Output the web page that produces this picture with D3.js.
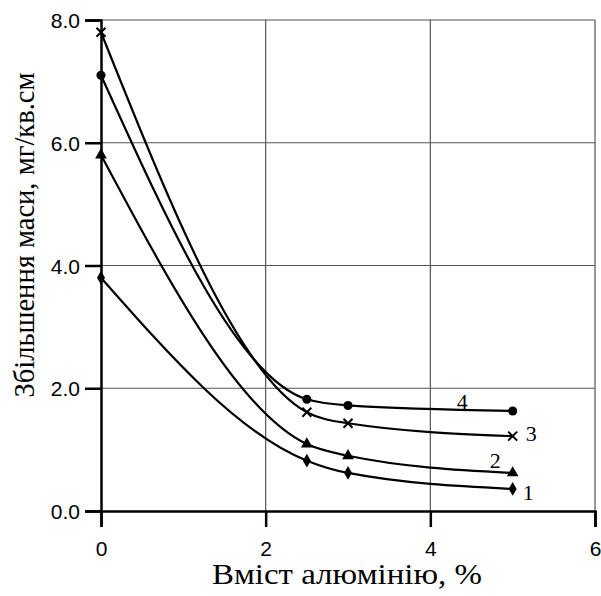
<!DOCTYPE html>
<html lang="uk">
<head>
<meta charset="UTF-8">
<title>Збільшення маси</title>
<script src="https://d3js.org/d3.v7.min.js"></script>
<style>
  body { margin: 0; background: #fff; }
  .tick text { font-family: "Liberation Sans", Arial, sans-serif; font-size: 21px; fill: #000; }
  .ttl { font-family: "Liberation Serif", "DejaVu Serif", serif; font-size: 29px; fill: #000; }
  .lbl { font-family: "Liberation Serif", "DejaVu Serif", serif; font-size: 22px; fill: #000; }
</style>
</head>
<body>
<div id="chart"></div>
<script>
  // values
  const xs = [0, 2.5, 3, 5];
  const s1 = [3.8, 0.82, 0.62, 0.36];   // diamonds
  const s2 = [5.8, 1.09, 0.90, 0.62];   // triangles
  const s3 = [7.8, 1.61, 1.43, 1.22];   // crosses
  const s4 = [7.1, 1.82, 1.72, 1.63];   // circles
  const seriesNames = ["1", "2", "3", "4"];
  const xTicks = [0, 2, 4, 6];
  const yTicks = [0, 2, 4, 6, 8];

  const W = 601, H = 596;
  const m = {left: 101, right: 6, top: 20, bottom: 85};

  const svg = d3.select("#chart").append("svg")
    .attr("width", W).attr("height", H);

  const x = d3.scaleLinear().domain([0, 6]).range([m.left, W - m.right]);
  const y = d3.scaleLinear().domain([0, 8]).range([H - m.bottom, m.top]);

  // grid
  svg.append("g").selectAll("line").data(xTicks.slice(1)).join("line")
    .attr("x1", d => x(d)).attr("x2", d => x(d))
    .attr("y1", y(0)).attr("y2", y(8))
    .attr("stroke", "#555").attr("stroke-width", 1.2);
  svg.append("g").selectAll("line").data(yTicks.slice(1)).join("line")
    .attr("x1", x(0)).attr("x2", x(6))
    .attr("y1", d => y(d)).attr("y2", d => y(d))
    .attr("stroke", "#555").attr("stroke-width", 1.2);

  // axes
  const xAxis = svg.append("g")
    .attr("transform", `translate(0,${y(0)})`)
    .call(d3.axisBottom(x).tickValues(xTicks).tickFormat(d3.format("d")).tickSize(16).tickPadding(14));
  const yAxis = svg.append("g")
    .attr("transform", `translate(${x(0)},0)`)
    .call(d3.axisLeft(y).tickValues(yTicks).tickFormat(d3.format(".1f")).tickSize(16).tickPadding(5));
  [xAxis, yAxis].forEach(a => {
    a.select(".domain").attr("stroke", "#000").attr("stroke-width", 2.5);
    a.selectAll(".tick line").attr("stroke", "#000").attr("stroke-width", 2.5);
  });
  yAxis.selectAll(".tick text").attr("dy", "0.36em");

  // curves
  const data = [s1, s2, s3, s4].map(s => s.map((v, i) => [xs[i], v]));
  const line = d3.line().x(d => x(d[0])).y(d => y(d[1])).curve(d3.curveMonotoneX);

  svg.append("g").selectAll("path").data(data).join("path")
    .attr("d", line).attr("fill", "none")
    .attr("stroke", "#000").attr("stroke-width", 2.2);

  // markers
  const shapes = [d3.symbolDiamond, d3.symbolTriangle, null, d3.symbolCircle];
  const sizes = [55, 60, 0, 65];
  data.forEach((s, k) => {
    const g = svg.append("g");
    if (k === 2) {
      g.selectAll("path").data(s).join("path")
        .attr("transform", d => `translate(${x(d[0])},${y(d[1])})`)
        .attr("d", "M-4.5,-4.5L4.5,4.5M-4.5,4.5L4.5,-4.5")
        .attr("stroke", "#000").attr("stroke-width", 2);
    } else {
      g.selectAll("path").data(s).join("path")
        .attr("transform", d => `translate(${x(d[0])},${y(d[1])})`)
        .attr("d", d3.symbol().type(shapes[k]).size(sizes[k]))
        .attr("fill", "#000");
    }
  });

  // curve numbers
  const lblOff = [[10, 11], [-23, -5], [13, 5], [-56, -2]];
  data.forEach((s, k) => {
    const p = s[s.length - 1];
    svg.append("text").attr("class", "lbl")
      .attr("x", x(p[0]) + lblOff[k][0]).attr("y", y(p[1]) + lblOff[k][1])
      .text(seriesNames[k]);
  });

  // titles
  svg.append("text").attr("class", "ttl")
    .attr("x", 347).attr("y", 584).attr("text-anchor", "middle")
    .attr("textLength", 270).attr("lengthAdjust", "spacingAndGlyphs")
    .text("Вміст алюмінію, %");
  svg.append("text").attr("class", "ttl")
    .attr("transform", "translate(34,235) rotate(-90)").attr("text-anchor", "middle")
    .attr("textLength", 325).attr("lengthAdjust", "spacingAndGlyphs")
    .text("Збільшення маси, мг/кв.см");
</script>
</body>
</html>
